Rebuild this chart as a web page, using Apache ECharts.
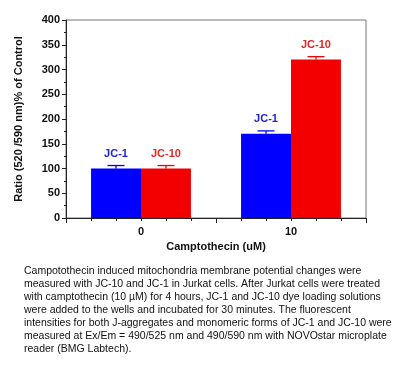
<!DOCTYPE html>
<html>
<head>
<meta charset="utf-8">
<style>
html,body{margin:0;padding:0;background:#fff;}
#c{width:416px;height:368px;}
</style>
<script src="https://cdn.jsdelivr.net/npm/echarts@6/dist/echarts.min.js"></script>
</head>
<body>
<div id="c"></div>
<script>
const categories = ['0', '10'];
const jc1Values = [100, 170];
const jc10Values = [100, 320];
const jc1Errors = [6, 6];
const jc10Errors = [6, 6];
const yTicks = [0, 400, 50];
const captionLines = [
  'Campotothecin induced mitochondria membrane potential changes were',
  'measured with JC-10 and JC-1 in Jurkat cells. After Jurkat cells were treated',
  'with camptothecin (10 \u00b5M) for 4 hours, JC-1 and JC-10 dye loading solutions',
  'were added to the wells and incubated for 30 minutes. The fluorescent',
  'intensities for both J-aggregates and monomeric forms of JC-1 and JC-10 were',
  'measured at Ex/Em = 490/525 nm and 490/590 nm with NOVOstar microplate',
  'reader (BMG Labtech).'
];

const BLUE = '#0000ff', RED = '#f20000';
const FONT = 'Liberation Sans, Arial, sans-serif';
const GAP = 0.334;

function errorSeries(name, values, errors, color, slot) {
  return {
    type: 'custom', name: name + ' err', z: 5,
    data: values.map((v, i) => [i, v, errors[i]]),
    renderItem: function (params, api) {
      const i = api.value(0), v = api.value(1), e = api.value(2);
      const band = api.size([1, 0])[0];
      const bw = band * (1 - GAP) / 2;
      const off = slot * bw / 2;
      const p0 = api.coord([i, v]);
      const p1 = api.coord([i, v + e]);
      const x = p0[0] + off;
      const cap = 8.5;
      return {
        type: 'group',
        children: [
          {type: 'line', shape: {x1: x, y1: p0[1], x2: x, y2: p1[1]}, style: {stroke: color, lineWidth: 1.3}},
          {type: 'line', shape: {x1: x - cap, y1: p1[1], x2: x + cap, y2: p1[1]}, style: {stroke: color, lineWidth: 1.3}}
        ]
      };
    }
  };
}

const chart = echarts.init(document.getElementById('c'), null, {renderer: 'canvas'});
const graphics = captionLines.map((t, k) => ({
  type: 'text', left: 24, top: 265.5 + k * 12.95,
  style: {text: t, font: '10.5px ' + FONT, fill: '#111'}
}));

chart.setOption({
  animation: false,
  backgroundColor: '#fff',
  grid: {left: 66, right: 50, top: 20, bottom: 150, show: true, borderColor: '#777', borderWidth: 1, containLabel: false},
  xAxis: [{
    type: 'category', data: categories,
    name: 'Camptothecin (uM)', nameLocation: 'middle', nameGap: 23,
    nameTextStyle: {fontFamily: FONT, fontWeight: 'bold', fontSize: 11, color: '#111'},
    axisLine: {lineStyle: {color: '#222', width: 1}},
    axisTick: {show: true, length: 5, lineStyle: {color: '#222'}},
    axisLabel: {fontFamily: FONT, fontWeight: 'bold', fontSize: 11, color: '#111', margin: 8},
    splitLine: {show: false}
  }, {
    type: 'value', min: 0, max: 12, interval: 1, position: 'bottom',
    axisLine: {show: false}, axisLabel: {show: false}, splitLine: {show: false},
    axisTick: {show: true, length: 3, lineStyle: {color: '#222'}}
  }],
  yAxis: {
    type: 'value', min: yTicks[0], max: yTicks[1], interval: yTicks[2],
    name: 'Ratio (520 /590 nm)% of Control', nameLocation: 'middle', nameGap: 42,
    nameTextStyle: {fontFamily: FONT, fontWeight: 'bold', fontSize: 11, color: '#111'},
    axisLine: {show: true, lineStyle: {color: '#222', width: 1}},
    axisTick: {show: true, length: 4, lineStyle: {color: '#222'}},
    minorTick: {show: true, splitNumber: 2, length: 2, lineStyle: {color: '#222'}},
    axisLabel: {fontFamily: FONT, fontWeight: 'bold', fontSize: 11, color: '#111', margin: 6},
    splitLine: {show: false}
  },
  series: [
    {
      type: 'bar', name: 'JC-1', data: jc1Values, xAxisIndex: 0,
      barGap: '0%', barCategoryGap: (GAP * 100) + '%',
      itemStyle: {color: BLUE},
      label: {show: true, position: 'top', distance: 9, formatter: '{a}', fontFamily: FONT, fontWeight: 'bold', fontSize: 11, color: '#2222d4'}
    },
    {
      type: 'bar', name: 'JC-10', data: jc10Values, xAxisIndex: 0,
      barGap: '0%', barCategoryGap: (GAP * 100) + '%',
      itemStyle: {color: RED},
      label: {show: true, position: 'top', distance: 9, formatter: '{a}', fontFamily: FONT, fontWeight: 'bold', fontSize: 11, color: '#e02828'}
    },
    errorSeries('JC-1', jc1Values, jc1Errors, BLUE, -1),
    errorSeries('JC-10', jc10Values, jc10Errors, RED, 1)
  ],
  graphic: graphics
});
</script>
</body>
</html>
